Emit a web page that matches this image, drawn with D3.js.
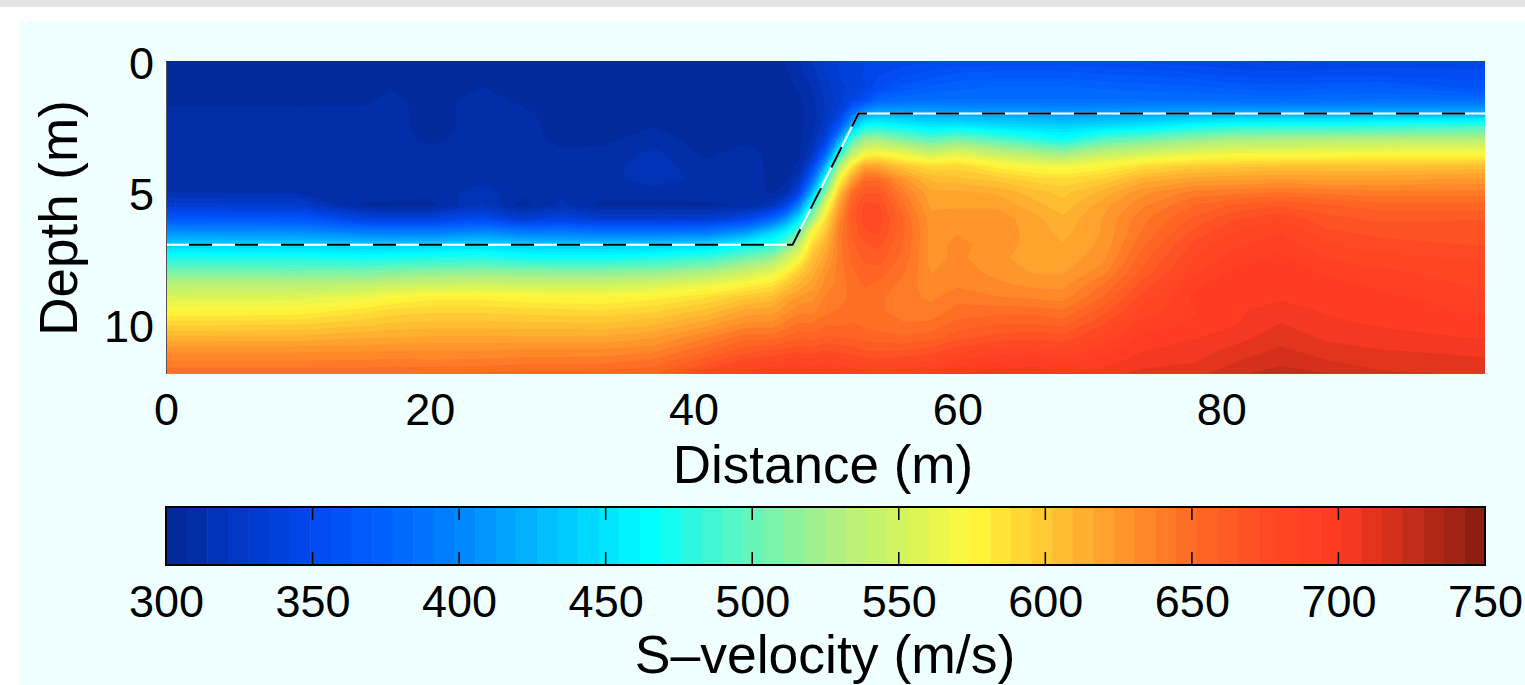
<!DOCTYPE html>
<html>
<head>
<meta charset="utf-8">
<script src="https://cdn.jsdelivr.net/npm/d3@7"></script>
<style>
	body { margin: 0; background: #fff; }
	text { font-family: "Liberation Sans", sans-serif; fill: #000; }
</style>
</head>
<body>
<svg width="1525" height="685"></svg>
<script>
var distTicks = [0, 20, 40, 60, 80];
var depthTicks = [0, 5, 10];
var velTicks = [300, 350, 400, 450, 500, 550, 600, 650, 700, 750];

// layer boundary
var interfaceDist = [0, 47.5, 52.5, 100];
var interfaceDepth = [7, 7, 2, 2];

// positions of the velocity profiles (m)
var distances = [0, 10, 15, 17, 20, 24, 27, 30, 33, 37, 41, 44, 46, 47, 48, 49, 50, 51, 52, 53, 54, 56, 58, 60, 63, 66, 68, 71, 74, 78, 81, 84.5, 88, 92, 100];
var depths = [0, .5, 1, 1.5, 2, 2.5, 3, 3.5, 4, 4.5, 5, 5.5, 6, 6.5, 7, 7.5, 8, 8.5, 9, 9.5, 10, 10.5, 11, 11.5, 11.9];

// one profile per distance, top to bottom (m/s)
var velocity = [
	[303,303,303,304,310,311,311,311,311,311,314,332,366,405,440,475,505,535,555,573,592,610,628,640,650],
	[303,303,303,304,310,311,311,311,311,311,313,330,364,403,440,474,504,534,557,575,594,611,628,640,650],
	[303,303,303,305,310,311,311,311,311,311,311,305,340,394,438,470,505,538,565,585,600,615,629,640,650],
	[303,303,306,310,311,311,311,311,311,311,311,305,338,392,438,472,508,542,572,590,603,616,630,641,651],
	[303,303,303,303,303,303,305,310,311,311,309,305,338,392,440,475,512,546,578,593,605,617,630,640,652],
	[303,303,307,311,311,311,311,311,311,312,318,322,350,402,445,478,514,548,578,593,605,617,630,641,653],
	[303,303,303,305,309,311,311,311,311,311,309,304,332,392,438,472,512,546,576,591,604,617,631,643,655],
	[303,303,303,303,303,303,304,309,311,311,313,316,340,392,436,470,510,545,574,590,604,617,631,643,654],
	[303,303,303,303,303,303,305,309,311,311,311,304,330,388,435,470,510,546,573,589,603,617,631,644,655],
	[303,303,303,303,304,307,311,316,318,318,311,304,330,388,438,475,514,552,578,594,608,622,635,648,658],
	[303,303,303,303,303,303,303,305,309,311,311,305,330,390,445,485,525,562,588,604,620,636,650,665,680],
	[303,303,303,303,303,303,305,311,311,311,310,308,345,410,465,505,543,575,600,618,632,648,662,678,690],
	[304,304,304,304,304,304,304,304,305,305,306,320,378,442,478,520,558,585,605,620,632,648,665,682,695],
	[308,306,305,304,304,304,304,304,305,305,312,345,408,460,505,545,575,600,618,628,640,652,668,685,698],
	[315,312,308,306,305,305,305,306,308,320,345,400,450,500,540,570,595,610,625,635,645,656,670,686,698],
	[322,318,315,312,310,312,316,322,345,385,430,475,520,572,590,603,612,620,628,636,645,655,668,682,695],
	[330,328,325,322,322,328,340,375,425,470,515,560,585,600,612,620,628,633,638,642,650,660,672,686,697],
	[335,335,332,332,338,365,415,470,525,570,600,620,632,638,640,640,640,640,642,645,650,658,670,684,695],
	[340,340,338,345,385,435,490,535,585,620,648,658,662,660,657,654,650,648,646,648,652,658,668,682,692],
	[342,343,342,358,420,470,525,565,620,650,665,675,677,672,665,660,657,653,648,648,650,655,665,678,690],
	[344,348,355,378,425,472,525,572,618,650,665,674,678,674,668,662,656,650,646,646,648,654,664,678,688],
	[346,355,365,385,422,465,510,560,600,625,638,645,650,652,650,648,645,642,640,640,645,652,665,680,692],
	[348,360,372,385,420,455,498,545,590,608,618,622,626,628,628,628,630,632,636,640,646,655,668,682,695],
	[350,365,375,385,418,458,510,558,592,605,618,622,628,630,632,632,634,636,642,647,654,662,676,690,700],
	[352,366,378,385,415,450,495,540,578,600,615,622,628,628,628,626,628,632,638,648,658,668,682,695,705],
	[352,366,378,385,415,445,480,528,568,592,605,612,618,620,620,618,622,628,636,648,658,670,684,698,706],
	[352,366,378,385,412,442,470,520,565,590,600,605,611,614,617,619,622,628,634,645,655,668,680,692,700],
	[350,364,376,385,415,448,495,540,575,596,612,620,624,624,625,628,634,644,652,662,672,680,690,698,705],
	[348,362,374,385,418,455,505,548,588,612,628,636,642,645,650,655,660,668,675,682,690,695,700,705,710],
	[345,358,372,385,420,470,520,560,598,620,640,652,660,668,675,680,685,692,695,693,695,700,704,708,712],
	[342,354,368,384,422,478,528,565,600,622,642,660,672,680,685,690,695,698,700,700,700,704,710,715,720],
	[340,352,366,382,422,480,530,566,602,624,645,665,678,686,692,695,698,698,700,703,708,712,716,720,726],
	[342,354,368,384,422,480,532,568,602,622,642,660,668,674,680,686,692,696,698,700,702,706,711,716,722],
	[344,354,370,386,425,482,534,570,602,622,640,655,664,670,676,682,688,692,696,698,700,703,708,712,716],
	[345,352,360,385,425,490,535,570,605,625,640,655,665,670,672,678,682,685,688,692,697,700,705,710,714]
];

// colour stops of the colour bar
var stopValues = [300, 325, 350, 375, 400, 425, 450, 465, 480, 500, 525, 550, 575, 600, 625, 650, 675, 700, 725, 750];
var stopColours = ["#022896", "#0238c4", "#0048f0", "#0062ff", "#0084ff", "#00b4ff", "#00e4ff", "#00ffff", "#30f8e0", "#66f6b8", "#a8f088", "#d4f460", "#fff83a", "#ffc834", "#ff9a2c", "#ff6a24", "#ff4a24", "#ff3a22", "#c42c1a", "#851c0e"];

var levels = 64;
var velMin = 300;
var velMax = 750;
var step = (velMax - velMin) / levels;

var colour = d3.scaleLinear()
	.domain(stopValues)
	.range(stopColours)
	.interpolate(d3.interpolateRgb);

var xScale = d3.scaleLinear().domain([0, 100]).range([166, 1485]);
var yScale = d3.scaleLinear().domain([0, 11.9]).range([61, 373.5]);
var barScale = d3.scaleLinear().domain([velMin, velMax]).range([166, 1485]);

var svg = d3.select("svg");

// page background
svg.append("rect").attr("width", 1525).attr("height", 7).attr("fill", "#e4e4e4");
svg.append("rect").attr("x", 19).attr("y", 21).attr("width", 1506).attr("height", 664).attr("fill", "#f0ffff");

// grid index -> distance/depth, the grid is not evenly spaced
var colToDist = d3.scaleLinear().domain(distances.map(function(d, i) { return i + .5; })).range(distances).clamp(true);
var rowToDepth = d3.scaleLinear().domain(depths.map(function(d, i) { return i + .5; })).range(depths).clamp(true);

var flat = [];
depths.forEach(function(d, j) {
	distances.forEach(function(e, i) {
		flat.push(velocity[i][j]);
	});
});

var thresholds = d3.range(levels).map(function(i) { return velMin + i * step; });

var contours = d3.contours()
	.size([distances.length, depths.length])
	.thresholds(thresholds)(flat);

var path = d3.geoPath(d3.geoTransform({
	point: function(x, y) {
		this.stream.point(xScale(colToDist(x)), yScale(rowToDepth(y)));
	}
}));

svg.append("g")
	.selectAll("path")
	.data(contours)
	.join("path")
	.attr("d", path)
	.attr("fill", function(d) { return colour(d.value + step / 2); });

// boundary, white line under black dashes
var line = d3.line()
	.x(function(d) { return xScale(d); })
	.y(function(d, i) { return yScale(interfaceDepth[i]); });

svg.append("path")
	.attr("d", line(interfaceDist))
	.attr("fill", "none")
	.attr("stroke", "#fff")
	.attr("stroke-width", 2);

svg.append("path")
	.attr("d", line(interfaceDist))
	.attr("fill", "none")
	.attr("stroke", "#000")
	.attr("stroke-width", 2)
	.attr("stroke-dasharray", "23 23")
	.attr("stroke-dashoffset", 23);

// axes
var xAxis = d3.axisBottom(xScale)
	.tickValues(distTicks)
	.tickSize(0)
	.tickPadding(20);

var yAxis = d3.axisLeft(yScale)
	.tickValues(depthTicks)
	.tickSize(0)
	.tickPadding(12);

var xg = svg.append("g")
	.attr("transform", "translate(0, 373.5)")
	.call(xAxis);
xg.select(".domain").remove();

var yg = svg.append("g")
	.attr("transform", "translate(166, 0)")
	.call(yAxis);
yg.select(".domain").attr("stroke", "#555");
yg.selectAll("text").attr("dy", ".39em");

// colour bar
var barTop = 507;
var barBottom = 565;

svg.append("g")
	.selectAll("rect")
	.data(thresholds)
	.join("rect")
	.attr("x", function(d) { return barScale(d); })
	.attr("y", barTop)
	.attr("width", barScale(velMin + step) - barScale(velMin) + .5)
	.attr("height", barBottom - barTop)
	.attr("fill", function(d) { return colour(d + step / 2); });

svg.append("rect")
	.attr("x", barScale(velMin))
	.attr("y", barTop)
	.attr("width", barScale(velMax) - barScale(velMin))
	.attr("height", barBottom - barTop)
	.attr("fill", "none")
	.attr("stroke", "#000")
	.attr("stroke-width", 2);

var barAxis = d3.axisBottom(barScale)
	.tickValues(velTicks)
	.tickFormat(d3.format("d"))
	.tickSize(0)
	.tickPadding(20);

var bg = svg.append("g")
	.attr("transform", "translate(0, " + barBottom + ")")
	.call(barAxis);
bg.select(".domain").remove();

// inner ticks at top and bottom of the bar
var innerTicks = velTicks.slice(1, -1);
[[barTop, barTop + 13], [barBottom - 13, barBottom]].forEach(function(p) {
	svg.append("g")
		.selectAll("line")
		.data(innerTicks)
		.join("line")
		.attr("x1", function(d) { return barScale(d); })
		.attr("x2", function(d) { return barScale(d); })
		.attr("y1", p[0])
		.attr("y2", p[1])
		.attr("stroke", "#000")
		.attr("stroke-width", 1.5);
});

// tick label size and axis titles
svg.selectAll(".tick text").style("font-size", "45px").style("font-family", "Liberation Sans");

svg.append("text")
	.attr("x", 823)
	.attr("y", 483)
	.attr("text-anchor", "middle")
	.style("font-size", "53px")
	.text("Distance (m)");

svg.append("text")
	.attr("transform", "translate(77, 218) rotate(-90)")
	.attr("text-anchor", "middle")
	.style("font-size", "53px")
	.text("Depth (m)");

svg.append("text")
	.attr("x", 825)
	.attr("y", 673)
	.attr("text-anchor", "middle")
	.style("font-size", "53.5px")
	.text("S–velocity (m/s)");
</script>
</body>
</html>
